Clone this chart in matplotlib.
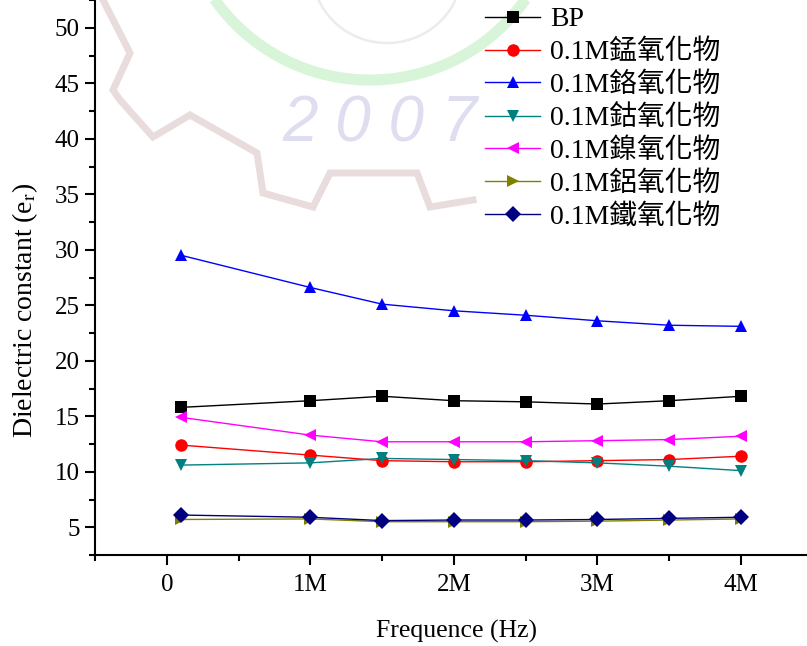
import matplotlib
matplotlib.use("Agg")
import numpy as np
import matplotlib.pyplot as plt
from matplotlib.ticker import MultipleLocator

# Frequency points (Hz)
freq = [0.1e6, 1.0e6, 1.5e6, 2.0e6, 2.5e6, 3.0e6, 3.5e6, 4.0e6]

bp = [15.8, 16.4, 16.8, 16.4, 16.3, 16.1, 16.4, 16.8]
mn = [12.4, 11.5, 11.0, 10.9, 10.9, 11.0, 11.1, 11.4]
cr = [29.5, 26.6, 25.1, 24.5, 24.1, 23.6, 23.2, 23.1]
co = [10.6, 10.8, 11.2, 11.1, 11.0, 10.8, 10.5, 10.1]
ni = [14.9, 13.3, 12.7, 12.7, 12.7, 12.8, 12.9, 13.2]
al = [5.7, 5.75, 5.5, 5.5, 5.5, 5.55, 5.65, 5.75]
fe = [6.1, 5.9, 5.6, 5.65, 5.65, 5.7, 5.8, 5.9]

labels = ["BP", "0.1M錳氧化物", "0.1M鉻氧化物", "0.1M鈷氧化物",
          "0.1M鎳氧化物", "0.1M鋁氧化物", "0.1M鐵氧化物"]
x_ticks = [0, 1e6, 2e6, 3e6, 4e6]
x_ticklabels = ["0", "1M", "2M", "3M", "4M"]
y_ticks = [5, 10, 15, 20, 25, 30, 35, 40, 45, 50]

plt.rcParams['font.family'] = ['Liberation Serif', 'Noto Sans CJK TC']
plt.rcParams['mathtext.fontset'] = 'stix'

W, H = 807, 646
fig = plt.figure(figsize=(W / 100, H / 100), dpi=100)

# Background emblem, drawn in pixel space behind the plot
bg = fig.add_axes([0, 0, 1, 1], zorder=0)
bg.set_xlim(0, W)
bg.set_ylim(H, 0)
bg.axis("off")
gear_x = [103, 130, 113, 120, 153, 190, 257, 263, 313, 330, 417, 430, 473]
gear_y = [0, 53, 90, 100, 137, 115, 153, 193, 207, 173, 173, 207, 200]
bg.plot(gear_x, gear_y, color="#e8dcdc", lw=5, solid_joinstyle="miter")
t = np.linspace(np.radians(35), np.radians(147), 120)
bg.plot(370 + 190 * np.cos(t), -110 + 190 * np.sin(t), color="#d9f5d9", lw=8,
        solid_capstyle="butt")
t2 = np.linspace(np.radians(20), np.radians(160), 120)
bg.plot(387 + 75 * np.cos(t2), -30 + 73 * np.sin(t2), color="#ececec", lw=1.8)
bg.text(380, 125, "2 0 0 7", fontsize=46, style="italic", family="Liberation Sans",
        color="#dedef0", ha="center", va="center")

ax = fig.add_axes([95 / W, 91 / H, 712 / W, 555 / H], zorder=1)
ax.patch.set_visible(False)

series = [
    (bp, "black", "s"),
    (mn, "red", "o"),
    (cr, "blue", "^"),
    (co, "#008080", "v"),
    (ni, "magenta", "<"),
    (al, "#808000", ">"),
    (fe, "#000080", "D"),
]
for (vals, col, mk), lab in zip(series, labels):
    ms = 8 if mk == "D" else 9
    ax.plot(freq, vals, color=col, marker=mk, markersize=ms, linewidth=1.0,
            markeredgewidth=0, label=lab)

ax.set_xlim(-0.5e6, 4.46e6)
ax.set_ylim(2.5, 52.5)
ax.set_xticks(x_ticks)
ax.set_xticklabels(x_ticklabels)
ax.xaxis.set_minor_locator(MultipleLocator(0.5e6))
ax.set_yticks(y_ticks)
ax.yaxis.set_minor_locator(MultipleLocator(2.5))

for s in ("top", "right"):
    ax.spines[s].set_visible(False)
for s in ("left", "bottom"):
    ax.spines[s].set_linewidth(1.5)

ax.tick_params(axis="both", which="major", direction="out", length=7, width=1.5,
               labelsize=18)
ax.tick_params(axis="both", which="minor", direction="out", length=4.5, width=1.5)
ax.tick_params(axis="x", pad=7)
ax.tick_params(axis="y", pad=4)

ax.set_xlabel("Frequence (Hz)", fontsize=18.5)
ax.xaxis.set_label_coords(0.508, -0.117)
ax.set_ylabel(r"Dielectric constant (e$_{\mathrm{r}}$)", fontsize=20)
ax.yaxis.set_label_coords(-0.077, 0.44)

ax.legend(loc="upper left", bbox_to_anchor=(485 / W, 1 - 7 / H),
          bbox_transform=fig.transFigure, frameon=False, fontsize=20,
          handlelength=1.98, handletextpad=0.36, labelspacing=0.26,
          borderpad=0, borderaxespad=0)

fig.savefig("out.png", dpi=100)
